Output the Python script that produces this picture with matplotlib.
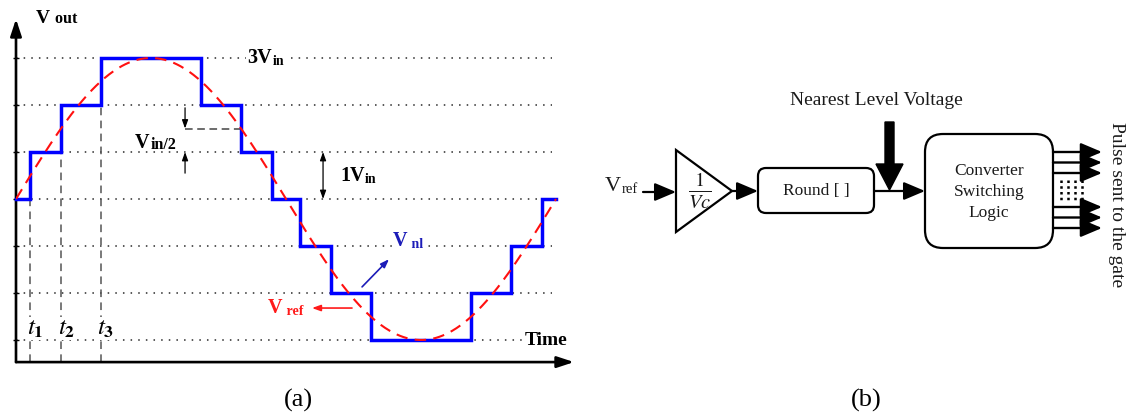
import numpy as np
import matplotlib
matplotlib.use('Agg')
import matplotlib.pyplot as plt
from matplotlib.patches import FancyBboxPatch, Polygon, FancyArrow

plt.rcParams['font.family'] = ['Liberation Serif', 'DejaVu Serif']
plt.rcParams['mathtext.fontset'] = 'stix'

# nearest-level staircase: switching angles (deg) and the level held after each one
step_angles = [0, 9.5, 30, 56.5, 123.5, 150, 170.5, 189.5, 210, 236.5, 303.5, 330, 350.5, 360]
step_levels = [0, 1, 2, 3, 2, 1, 0, -1, -2, -3, -2, -1, 0]
levels = [-3, -2, -1, 0, 1, 2, 3]
ref_amplitude = 3          # Vref peak, in units of Vin
t_labels = ['1', '2', '3']

# output gate lines of the switching logic block (pixel rows)
gate_rows = [152, 162.5, 173, 207, 217.5, 228]

W, H = 1132, 419
fig = plt.figure(figsize=(W / 100, H / 100), dpi=100, facecolor='white')

# ---------- (a) staircase waveform ----------
PX_DEG, PX_LVL = 1.5, 47
X0, Y0 = 16, 199
xlim = (0, 375)
ylim = (-3.47, 3.95)
left = X0 + xlim[0] * PX_DEG
right = X0 + xlim[1] * PX_DEG
bottom = Y0 - ylim[0] * PX_LVL
top = Y0 - ylim[1] * PX_LVL
ax = fig.add_axes([left / W, (H - bottom) / H, (right - left) / W, (bottom - top) / H])
ax.set_xlim(xlim)
ax.set_ylim(ylim)
for s in ax.spines.values():
    s.set_visible(False)
ax.patch.set_alpha(0)
ax.set_xticks([])
ax.set_yticks(levels)
ax.tick_params(axis='y', length=5, width=1, direction='inout', labelleft=False)

# dotted level lines
ax.hlines(levels, 0, 357, colors='#2a2a2a', linestyles=(0, (1, 4)), lw=1.1, zorder=1)

# axes with arrow heads
ax_style = dict(arrowstyle='-|>,head_length=0.85,head_width=0.28', lw=1.9, color='k',
                shrinkA=0, shrinkB=0, mutation_scale=12)
ax.annotate('', xy=(0, 3.83), xytext=(0, ylim[0]), arrowprops=ax_style, annotation_clip=False)
ax.annotate('', xy=(372, ylim[0]), xytext=(0, ylim[0]), arrowprops=ax_style, annotation_clip=False)

# switching instants t1..t3
for i, lab in enumerate(t_labels, start=1):
    ang = step_angles[i]
    ax.vlines(ang, ylim[0], step_levels[i - 1], colors='#555555',
              linestyles=(0, (5, 3.5)), lw=1.1, zorder=1)
    ax.text(ang + 3.5, -2.76, r'$t_{\mathbf{%s}}$' % lab, fontsize=18, ha='center', va='center',
            zorder=2, bbox=dict(fc='white', ec='none', pad=0.3))

# staircase and sinusoidal reference
ax.step(step_angles, step_levels + [step_levels[-1]], where='post', color='#0000ff',
        lw=2.5, zorder=3, solid_joinstyle='miter', clip_on=False)
theta = np.linspace(0, 360, 500)
ax.plot(theta, ref_amplitude * np.sin(np.radians(theta)), color='#ff1010', lw=1.5,
        dashes=(5.5, 3.5), zorder=4)


def sub_label(axis, x, y, main, sub, size, sub_size, color='k', weight='bold', box=False):
    kw = dict(bbox=dict(fc='white', ec='none', pad=1)) if box else {}
    t = axis.text(x, y, main, fontsize=size, fontweight=weight, color=color,
                  ha='left', va='center', zorder=6, **kw)
    axis.annotate(sub, xy=(1, 0), xycoords=t, xytext=(0.5, 0), textcoords='offset points',
                  fontsize=sub_size, fontweight=weight, color=color, ha='left', va='bottom',
                  zorder=6, **kw)
    return t


sub_label(ax, 13.3, 3.83, 'V', ' out', 14, 11.5)
sub_label(ax, 154, 3.0, '3V', 'in', 14.5, 10, box=True)
sub_label(ax, 79.3, 1.2, 'V', 'in/2', 14.5, 11.5)
sub_label(ax, 216, 0.5, '1V', 'in', 14.5, 10)
sub_label(ax, 251.3, -0.9, 'V', ' nl', 14.5, 10, color='#1c1cb8', box=True)
sub_label(ax, 168, -2.32, 'V', ' ref', 14.5, 10, color='#ff1a1a')
ax.text(339, -3.02, 'Time', fontsize=14, fontweight='bold', ha='left', va='center',
        bbox=dict(fc='white', ec='none', pad=1))

small = dict(arrowstyle='-|>,head_length=0.5,head_width=0.18', lw=0.9, color='k',
             shrinkA=0, shrinkB=0, mutation_scale=10)
# Vin/2 marker
ax.hlines(1.5, 112.7, 149.5, colors='#444444', linestyles=(0, (5, 3)), lw=1.1, zorder=2)
ax.annotate('', xy=(112.7, 1.5), xytext=(112.7, 1.94), arrowprops=small)
ax.annotate('', xy=(112.7, 1.0), xytext=(112.7, 0.55), arrowprops=small)
# one-level step marker
ax.annotate('', xy=(204.7, 1.0), xytext=(204.7, 0.0),
            arrowprops=dict(small, arrowstyle='<|-|>,head_length=0.5,head_width=0.18'))
# pointers to the two curves
ax.annotate('', xy=(248.7, -1.28), xytext=(230.7, -1.87),
            arrowprops=dict(small, color='#1c1cb8', lw=1.2))
ax.annotate('', xy=(197.3, -2.32), xytext=(224, -2.32),
            arrowprops=dict(small, color='#ff1a1a', lw=1.2))

# ---------- (b) block diagram, drawn in pixel coordinates ----------
ov = fig.add_axes([0, 0, 1, 1])
ov.set_xlim(0, W)
ov.set_ylim(H, 0)
ov.axis('off')

ink = '#1a1a1a'
blk = dict(arrowstyle='-|>,head_length=1.3,head_width=0.55', lw=1.6, color='k',
           shrinkA=0, shrinkB=0, mutation_scale=10)


def arrow(x0, y0, x1, y1, **kw):
    ov.annotate('', xy=(x1, y1), xytext=(x0, y0), arrowprops=dict(blk, **kw))


sub_label(ov, 605, 186, 'V', 'ref', 16, 10.5, color=ink, weight='normal')
arrow(643, 192, 676, 192)
ov.add_patch(Polygon([(676, 150), (676, 232), (732, 191)], closed=True, fc='white',
                     ec='k', lw=1.6))
ov.text(700, 190, r'$\frac{1}{Vc}$', fontsize=21, ha='center', va='center', color=ink)
arrow(732, 191, 758, 191)

ov.add_patch(FancyBboxPatch((758, 168), 116, 45, boxstyle='round,pad=0,rounding_size=8',
                            fc='white', ec='k', lw=1.6))
ov.text(816, 191, 'Round [ ]', fontsize=12.5, ha='center', va='center', color=ink)
arrow(874, 191, 925, 191)

ov.text(876, 100, 'Nearest Level Voltage', fontsize=14, ha='center', va='center', color=ink)
ov.add_patch(FancyArrow(889.5, 122, 0, 68, width=9, head_width=27, head_length=26,
                        length_includes_head=True, color='k'))

ov.add_patch(FancyBboxPatch((925, 134), 128, 114, boxstyle='round,pad=0,rounding_size=18',
                            fc='white', ec='k', lw=1.6))
ov.text(989, 192, 'Converter\nSwitching\nLogic', fontsize=12.5, ha='center', va='center',
        color=ink, linespacing=1.45)

for r in gate_rows:
    arrow(1053, r, 1102, r, lw=1.7)
ov.vlines([1061, 1068, 1075, 1082], 180, 201, colors='k', linestyles=(0, (1, 1.3)), lw=1.8)

ov.text(1117, 205, 'Pulse sent to the gate', fontsize=14, rotation=-90,
        ha='center', va='center', color=ink)

ov.text(298, 400, '(a)', fontsize=19, ha='center', va='center')
ov.text(866, 400, '(b)', fontsize=19, ha='center', va='center')

fig.savefig('out.png', dpi=100, facecolor='white')
